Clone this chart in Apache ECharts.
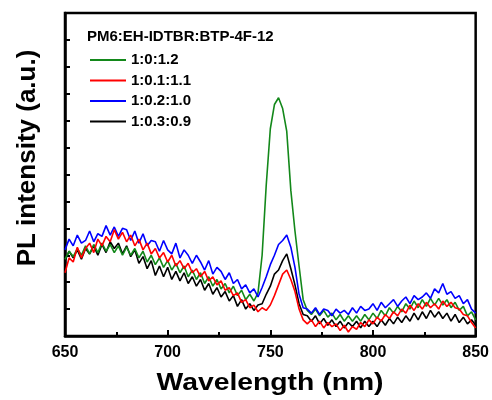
<!DOCTYPE html>
<html>
<head>
<meta charset="utf-8">
<script src="https://cdn.jsdelivr.net/npm/echarts@6/dist/echarts.min.js"></script>
<style>html,body{margin:0;padding:0;background:#fff}#c{width:492px;height:400px}</style>
</head>
<body>
<div id="c"></div>
<script>
const wavelength = [650,652,654,656,658,660,662,664,666,668,670,672,674,676,678,680,682,684,686,688,690,692,694,696,698,700,702,704,706,708,710,712,714,716,718,720,722,724,726,728,730,732,734,736,738,740,742,744,746,748,750,752,754,756,758,760,762,764,766,768,770,772,774,776,778,780,782,784,786,788,790,792,794,796,798,800,802,804,806,808,810,812,814,816,818,820,822,824,826,828,830,832,834,836,838,840,842,844,846,848,850];
const xTicks = [650, 700, 750, 800, 850];
const legendTitle = 'PM6:EH-IDTBR:BTP-4F-12';
const seriesNames = ['1:0:1.2', '1:0.1:1.1', '1:0.2:1.0', '1:0.3:0.9'];

const s_1_0_12 = [2.85,3.15,2.95,3.25,3.0,3.35,3.05,3.4,3.1,3.45,3.15,3.4,3.1,3.35,3.0,3.3,3.0,3.25,2.9,3.15,2.75,3.0,2.65,2.9,2.55,2.8,2.45,2.7,2.35,2.6,2.2,2.45,2.1,2.35,1.95,2.2,1.85,2.1,1.75,1.95,1.6,1.85,1.5,1.7,1.35,1.55,1.3,1.6,3.0,5.6,7.7,8.6,8.85,8.45,7.6,5.4,3.9,2.6,1.35,0.95,0.8,1.0,0.75,0.95,0.7,0.85,0.6,0.8,0.55,0.75,0.55,0.75,0.55,0.8,0.6,0.85,0.65,0.95,0.75,1.05,0.85,1.1,0.9,1.2,1.0,1.3,1.05,1.35,1.1,1.4,1.15,1.4,1.15,1.35,1.05,1.25,0.95,1.1,0.75,0.9,0.6];
const s_1_01_11 = [2.35,2.9,2.75,3.3,2.9,3.25,3.45,3.1,3.6,3.35,3.7,3.5,3.95,3.6,3.85,3.5,3.75,3.35,3.6,3.2,3.45,3.05,3.25,2.9,3.1,2.75,3.0,2.6,2.8,2.5,2.7,2.35,2.5,2.2,2.4,2.05,2.2,1.9,2.05,1.7,1.8,1.5,1.6,1.25,1.35,1.05,1.15,0.9,1.05,0.95,1.15,1.5,1.9,2.3,2.45,2.1,1.65,1.0,0.6,0.45,0.6,0.35,0.55,0.3,0.5,0.35,0.45,0.2,0.4,0.15,0.35,0.25,0.5,0.35,0.6,0.45,0.7,0.55,0.8,0.65,0.9,0.75,1.0,0.85,1.15,0.95,1.2,1.0,1.25,1.05,1.2,1.0,1.3,1.1,1.25,1.05,1.0,0.8,0.75,0.5,0.3];
const s_1_02_10 = [3.2,3.6,3.35,3.75,3.45,3.55,3.9,3.5,3.8,3.7,4.1,3.75,4.05,3.7,4.0,3.95,3.55,3.9,3.45,3.8,3.35,3.55,3.5,3.15,3.55,3.2,3.05,3.45,2.9,3.2,3.0,2.7,3.0,2.75,2.45,2.8,2.3,2.55,2.4,2.1,2.35,1.95,2.1,1.75,1.9,1.6,1.75,1.45,1.8,2.2,2.65,3.0,3.4,3.55,3.75,3.3,2.55,1.55,1.05,1.0,0.85,1.05,0.8,1.0,0.95,0.75,1.0,0.85,0.95,0.8,1.05,0.85,1.1,0.95,1.0,1.2,0.95,1.25,1.05,1.2,1.35,1.1,1.3,1.45,1.2,1.5,1.35,1.45,1.6,1.4,1.75,1.6,1.95,1.55,1.65,1.4,1.5,1.2,1.35,1.0,0.85];
const s_1_03_09 = [2.8,3.15,2.9,3.2,2.85,3.25,3.05,3.35,3.0,3.4,3.1,3.5,3.25,3.45,3.05,3.35,2.95,3.2,2.7,2.95,2.5,2.8,2.25,2.6,2.2,2.55,2.1,2.4,2.05,2.35,1.95,2.2,1.85,2.1,1.7,1.95,1.55,1.8,1.45,1.65,1.3,1.5,1.1,1.35,1.0,1.2,0.95,1.15,1.2,1.55,1.85,2.3,2.45,2.8,3.05,2.5,1.9,1.2,0.8,0.75,0.55,0.75,0.45,0.65,0.4,0.6,0.35,0.55,0.3,0.5,0.35,0.55,0.3,0.55,0.35,0.55,0.35,0.6,0.4,0.65,0.45,0.7,0.5,0.75,0.55,0.85,0.6,0.9,0.65,0.95,0.7,0.9,0.65,0.85,0.55,0.8,0.5,0.7,0.45,0.6,0.4];

const colors = ['#13881a', '#ff0000', '#0000ff', '#000000'];
const values = [s_1_0_12, s_1_01_11, s_1_02_10, s_1_03_09];
const drawOrder = [3, 0, 2, 1];

const FONT = 'Liberation Sans, Arial, sans-serif';
const chart = echarts.init(document.getElementById('c'));
const series = drawOrder.map(i => ({
  name: seriesNames[i],
  type: 'line',
  data: wavelength.map((w, k) => [w, values[i][k]]),
  showSymbol: false,
  symbol: 'none',
  lineStyle: { color: colors[i], width: 1.6 },
  itemStyle: { color: colors[i] },
  animation: false
}));

chart.setOption({
  animation: false,
  title: {
    text: legendTitle, left: 87, top: 29, padding: 0,
    textStyle: { fontFamily: FONT, fontWeight: 'bold', fontSize: 15, color: '#000' }
  },
  legend: {
    data: seriesNames, orient: 'vertical', left: 90, top: 52, padding: 0,
    icon: 'rect', itemWidth: 36, itemHeight: 2, itemGap: 4.5,
    textStyle: { fontFamily: FONT, fontWeight: 'bold', fontSize: 15, color: '#000', lineHeight: 16 }
  },
  grid: { left: 65, right: 16, top: 13, bottom: 64, show: true, borderColor: '#000', borderWidth: 2.5, backgroundColor: 'transparent' },
  xAxis: {
    type: 'value', min: 650, max: 850, interval: 50,
    axisLine: { lineStyle: { color: '#000', width: 2.5 } },
    axisTick: { inside: true, length: 6, lineStyle: { width: 2, color: '#000' } },
    minorTick: { show: true, splitNumber: 2, length: 4, lineStyle: { width: 2, color: '#000' } },
    splitLine: { show: false },
    axisLabel: { fontFamily: FONT, fontWeight: 'bold', fontSize: 16, color: '#000', margin: 9,
      formatter: v => xTicks.includes(v) ? String(v) : '' }
  },
  yAxis: {
    type: 'value', min: 0, max: 12, interval: 1,
    axisLine: { show: true, lineStyle: { color: '#000', width: 2.5 } },
    axisTick: { show: true, inside: true, length: 5, lineStyle: { width: 2, color: '#000' } },
    splitLine: { show: false },
    axisLabel: { show: false }
  },
  graphic: [
    { type: 'text', x: 270, y: 383, scaleX: 1.18, silent: true,
      style: { text: 'Wavelength (nm)', font: 'bold 24px ' + FONT, fill: '#000', textAlign: 'center', textVerticalAlign: 'middle' } },
    { type: 'text', x: 28, y: 158, rotation: Math.PI / 2, silent: true,
      style: { text: 'PL intensity (a.u.)', font: 'bold 26px ' + FONT, fill: '#000', textAlign: 'center', textVerticalAlign: 'middle' } }
  ],
  series: series
});
</script>
</body>
</html>
